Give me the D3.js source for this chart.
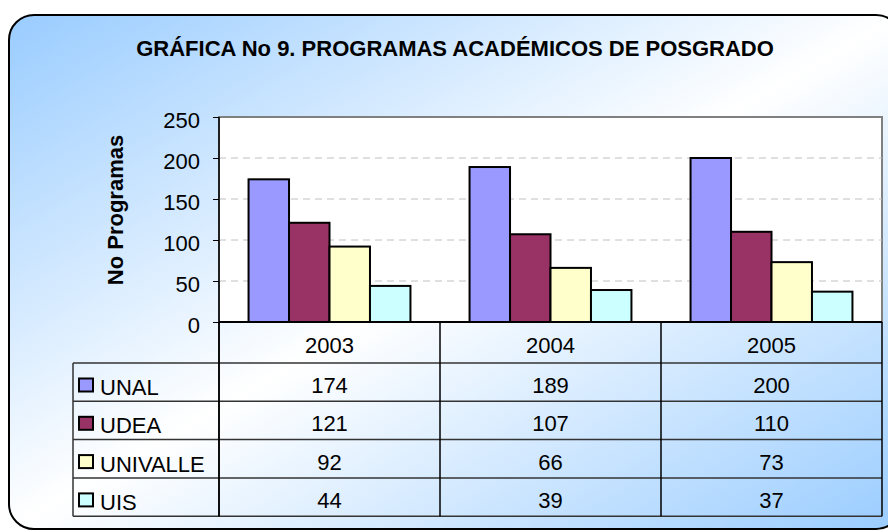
<!DOCTYPE html>
<html>
<head>
<meta charset="utf-8">
<script src="https://cdn.jsdelivr.net/npm/d3@7"></script>
<style>
  html, body { margin: 0; padding: 0; background: #fff; }
  svg { display: block; font-family: "Liberation Sans", Arial, sans-serif; }
</style>
</head>
<body>
<svg id="chart" width="888" height="530"></svg>
<script>
const years = ['2003', '2004', '2005'];
const universities = ['UNAL', 'UDEA', 'UNIVALLE', 'UIS'];
const unal = [174, 189, 200];
const udea = [121, 107, 110];
const univalle = [92, 66, 73];
const uis = [44, 39, 37];
const yTicks = [0, 50, 100, 150, 200, 250];
const barColors = ['#9999FF', '#993366', '#FFFFCC', '#CCFFFF'];

const seriesValues = [unal, udea, univalle, uis];
const fontSize = 22;

const svg = d3.select('#chart');

// background with the diagonal blue-white-blue fill
const defs = svg.append('defs');
const grad = defs.append('linearGradient')
  .attr('id', 'bg')
  .attr('x1', 0).attr('y1', 0).attr('x2', 1).attr('y2', 1);
grad.append('stop').attr('offset', '0%').attr('stop-color', '#99CCFF');
grad.append('stop').attr('offset', '50%').attr('stop-color', '#FFFFFF');
grad.append('stop').attr('offset', '100%').attr('stop-color', '#99CCFF');

svg.append('rect')
  .attr('x', 9).attr('y', 15)
  .attr('width', 892).attr('height', 514)
  .attr('rx', 25)
  .attr('fill', 'url(#bg)')
  .attr('stroke', '#000')
  .attr('stroke-width', 2);

svg.append('text')
  .attr('x', 455).attr('y', 56)
  .attr('text-anchor', 'middle')
  .attr('font-size', fontSize)
  .attr('font-weight', 'bold')
  .text('GRÁFICA No 9. PROGRAMAS ACADÉMICOS DE POSGRADO');

const plotLeft = 219, plotRight = 882, plotTop = 117, plotBottom = 322;
const tableLeft = 73, headerBottom = 363, rowHeight = 38.3;

const x0 = d3.scaleBand().domain(years).range([plotLeft, plotRight]);
const x1 = d3.scaleBand().domain(universities)
  .range([0, x0.bandwidth()])
  .paddingInner(0)
  .paddingOuter(0.73);
const y = d3.scaleLinear().domain([0, 250]).range([plotBottom, plotTop]);

// plot area
svg.append('rect')
  .attr('x', plotLeft).attr('y', plotTop)
  .attr('width', plotRight - plotLeft).attr('height', plotBottom - plotTop)
  .attr('fill', '#fff')
  .attr('stroke', '#808080')
  .attr('stroke-width', 2);

// dashed grid
svg.append('g')
  .selectAll('line')
  .data(yTicks.filter(d => d > 0 && d < 250))
  .join('line')
  .attr('x1', plotLeft).attr('x2', plotRight)
  .attr('y1', d => y(d)).attr('y2', d => y(d))
  .attr('stroke', '#c0c0c0')
  .attr('stroke-width', 1)
  .attr('stroke-dasharray', '7 5');

// bars
const groups = svg.append('g')
  .selectAll('g')
  .data(years)
  .join('g')
  .attr('transform', d => `translate(${x0(d)},0)`);

groups.selectAll('rect')
  .data((yr, i) => universities.map((u, s) => ({ u, s, v: seriesValues[s][i] })))
  .join('rect')
  .attr('x', d => x1(d.u))
  .attr('width', x1.bandwidth())
  .attr('y', d => y(d.v))
  .attr('height', d => y(0) - y(d.v))
  .attr('fill', d => barColors[d.s])
  .attr('stroke', '#000')
  .attr('stroke-width', 2);

// y axis
const yAxis = d3.axisLeft(y).tickValues(yTicks).tickSize(6).tickPadding(13);
const yg = svg.append('g')
  .attr('transform', `translate(${plotLeft},0)`)
  .call(yAxis);
yg.select('.domain').remove();
yg.selectAll('.tick line').attr('stroke', '#000');
yg.selectAll('.tick text')
  .attr('font-size', fontSize)
  .attr('font-family', '"Liberation Sans", Arial, sans-serif')
  .attr('dy', '0.48em')
  .attr('fill', '#000');

svg.append('text')
  .attr('transform', 'translate(123,210) rotate(-90)')
  .attr('text-anchor', 'middle')
  .attr('font-size', fontSize)
  .attr('font-weight', 'bold')
  .text('No Programas');

// data table
const tableBottom = headerBottom + rowHeight * universities.length;
const table = svg.append('g');

// horizontal lines
table.selectAll('line.h')
  .data(d3.range(universities.length + 1))
  .join('line')
  .attr('class', 'h')
  .attr('x1', tableLeft).attr('x2', plotRight)
  .attr('y1', i => headerBottom + i * rowHeight)
  .attr('y2', i => headerBottom + i * rowHeight)
  .attr('stroke', '#333')
  .attr('stroke-width', 1.5);

// vertical lines
table.append('line')
  .attr('x1', tableLeft).attr('x2', tableLeft)
  .attr('y1', headerBottom).attr('y2', tableBottom)
  .attr('stroke', '#333').attr('stroke-width', 1.5);
table.selectAll('line.v')
  .data(years.map(d => x0(d)).concat([plotRight]))
  .join('line')
  .attr('class', 'v')
  .attr('x1', d => d).attr('x2', d => d)
  .attr('y1', plotBottom).attr('y2', tableBottom)
  .attr('stroke', '#000').attr('stroke-width', 1.5);

// x axis line
svg.append('line')
  .attr('x1', plotLeft).attr('x2', plotRight)
  .attr('y1', plotBottom).attr('y2', plotBottom)
  .attr('stroke', '#000').attr('stroke-width', 2);
svg.append('line')
  .attr('x1', plotLeft).attr('x2', plotLeft)
  .attr('y1', plotTop).attr('y2', tableBottom)
  .attr('stroke', '#000').attr('stroke-width', 1.5);

// year headers
table.selectAll('text.year')
  .data(years)
  .join('text')
  .attr('class', 'year')
  .attr('x', d => x0(d) + x0.bandwidth() / 2)
  .attr('y', 353)
  .attr('text-anchor', 'middle')
  .attr('font-size', fontSize)
  .text(d => d);

// legend keys + labels
const rows = table.selectAll('g.row')
  .data(universities)
  .join('g')
  .attr('class', 'row')
  .attr('transform', (d, i) => `translate(0,${headerBottom + i * rowHeight})`);

rows.append('rect')
  .attr('x', 79).attr('y', 15.5)
  .attr('width', 14).attr('height', 13)
  .attr('fill', (d, i) => barColors[i])
  .attr('stroke', '#000')
  .attr('stroke-width', 2);

rows.append('text')
  .attr('x', 100).attr('y', 32)
  .attr('font-size', fontSize)
  .text(d => d);

rows.selectAll('text.val')
  .data((d, i) => years.map((yr, j) => ({ yr, v: seriesValues[i][j] })))
  .join('text')
  .attr('class', 'val')
  .attr('x', d => x0(d.yr) + x0.bandwidth() / 2)
  .attr('y', 30)
  .attr('text-anchor', 'middle')
  .attr('font-size', fontSize)
  .text(d => d.v);
</script>
</body>
</html>
